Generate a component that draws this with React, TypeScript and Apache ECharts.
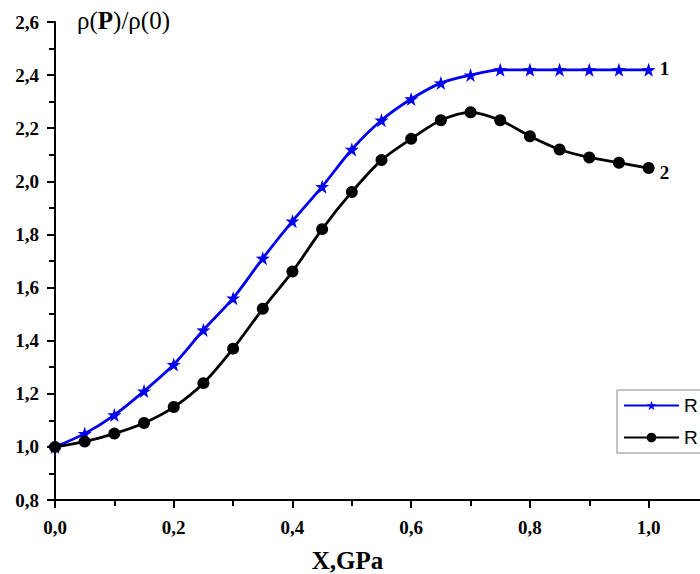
import React, { useEffect, useRef } from "react";
import * as echarts from "echarts";

const xValues = [0, 0.05, 0.1, 0.15, 0.2, 0.25, 0.3, 0.35, 0.4, 0.45, 0.5, 0.55, 0.6, 0.65, 0.7, 0.75, 0.8, 0.85, 0.9, 0.95, 1.0];
const series1 = [1.0, 1.05, 1.12, 1.21, 1.31, 1.44, 1.56, 1.71, 1.85, 1.98, 2.12, 2.23, 2.31, 2.37, 2.40, 2.42, 2.42, 2.42, 2.42, 2.42, 2.42];
const series2 = [1.0, 1.02, 1.05, 1.09, 1.15, 1.24, 1.37, 1.52, 1.66, 1.82, 1.96, 2.08, 2.16, 2.23, 2.26, 2.23, 2.17, 2.12, 2.09, 2.07, 2.05];
const seriesNames = ["R1", "R2"];
const endLabels = ["1", "2"];
const xTitle = "X,GPa";

const serif = "'Liberation Serif', 'Times New Roman', serif";
const fmt = (v: number) => v.toFixed(1).replace(".", ",");

export default function App() {
  const ref = useRef<HTMLDivElement>(null);
  useEffect(() => {
    document.body.style.overflow = "hidden";
    const chart = echarts.init(ref.current!, null, { renderer: "svg" });
    const mk = (vals: number[]) => xValues.map((x, i) => [x, vals[i]]);
    const endLabel = (txt: string, dy: number) => ({
      show: true,
      formatter: () => txt,
      distance: 11,
      offset: [0, dy],
      color: "#000",
      fontFamily: serif,
      fontWeight: "bold",
      fontSize: 19,
    });
    chart.setOption({
      animation: false,
      backgroundColor: "#fff",
      grid: { left: 55, top: 22, right: 12, bottom: 74, containLabel: false, outerBoundsMode: "none" },
      xAxis: {
        type: "value",
        min: 0,
        max: 1.1,
        interval: 0.2,
        name: xTitle,
        nameLocation: "middle",
        nameGap: 48,
        nameTextStyle: { fontFamily: serif, fontWeight: "bold", fontSize: 25, color: "#000", padding: [0, 68, 0, 0] },
        axisLine: { show: true, lineStyle: { color: "#000", width: 2 } },
        axisTick: { show: true, inside: false, length: 8, lineStyle: { color: "#000", width: 2 } },
        minorTick: { show: true, splitNumber: 2, length: 6, lineStyle: { color: "#000", width: 2 } },
        splitLine: { show: false },
        axisLabel: { formatter: fmt, showMaxLabel: false, margin: 18, fontFamily: serif, fontWeight: "bold", fontSize: 19, color: "#000" },
      },
      yAxis: {
        type: "value",
        min: 0.8,
        max: 2.6,
        interval: 0.2,
        axisLine: { show: true, lineStyle: { color: "#000", width: 2 } },
        axisTick: { show: true, inside: false, length: 8, lineStyle: { color: "#000", width: 2 } },
        minorTick: { show: true, splitNumber: 2, length: 6, lineStyle: { color: "#000", width: 2 } },
        splitLine: { show: false },
        axisLabel: { formatter: fmt, margin: 16, fontFamily: serif, fontWeight: "bold", fontSize: 19, color: "#000" },
      },
      legend: {
        left: 617,
        top: 390,
        orient: "vertical",
        itemWidth: 55,
        itemHeight: 12,
        itemGap: 13,
        padding: [6, 40, 6, 6],
        borderColor: "#888",
        borderWidth: 1,
        formatter: () => "R",
        textStyle: { fontFamily: "'Liberation Sans', Arial, sans-serif", fontSize: 19, lineHeight: 16, color: "#000" },
        data: seriesNames,
      },
      graphic: [
        {
          type: "text",
          left: 77,
          top: 8,
          style: {
            text: "{a|ρ(}{b|P}{a|)/ρ(0)}",
            rich: {
              a: { fontFamily: serif, fontSize: 25, fill: "#000" },
              b: { fontFamily: serif, fontSize: 25, fontWeight: "bold", fill: "#000" },
            },
          },
        },
      ],
      series: [
        {
          name: seriesNames[0],
          type: "line",
          data: mk(series1),
          smooth: 0.3,
          symbol: "path://M50,0 L61.8,35.1 L98.9,35.5 L69.1,57.6 L80.3,93.1 L50,71.5 L19.7,93.1 L30.9,57.6 L1.1,35.5 L38.2,35.1 Z",
          symbolSize: 14,
          color: "#0000ee",
          lineStyle: { color: "#0000ee", width: 2.8 },
          itemStyle: { color: "#0000ee" },
          endLabel: endLabel(endLabels[0], -1),
        },
        {
          name: seriesNames[1],
          type: "line",
          data: mk(series2),
          smooth: 0.3,
          symbol: "circle",
          symbolSize: 12,
          color: "#000",
          lineStyle: { color: "#000", width: 2.8 },
          itemStyle: { color: "#000" },
          endLabel: endLabel(endLabels[1], 4),
        },
      ],
    });
    return () => chart.dispose();
  }, []);
  return <div ref={ref} style={{ position: "fixed", left: 0, top: 0, width: 720, height: 574 }} />;
}
